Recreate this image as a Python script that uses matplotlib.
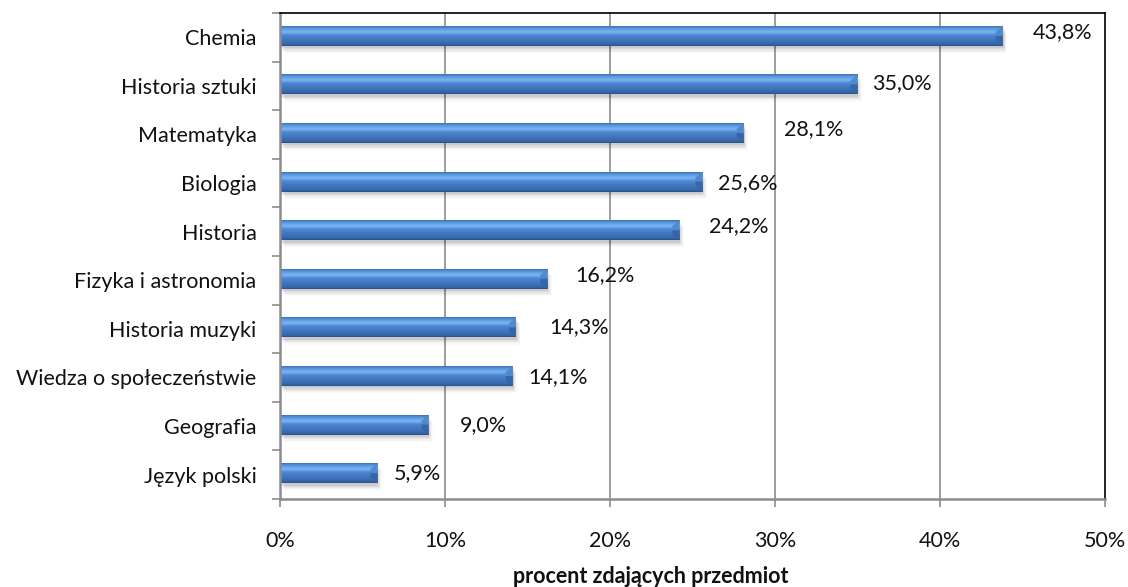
import numpy as np
import matplotlib
matplotlib.use("Agg")
import matplotlib.pyplot as plt
from matplotlib.colors import LinearSegmentedColormap
from matplotlib.patches import Rectangle, Polygon
import matplotlib.transforms as mtransforms

# ---- data ----
categories = ["Chemia", "Historia sztuki", "Matematyka", "Biologia", "Historia",
              "Fizyka i astronomia", "Historia muzyki", "Wiedza o społeczeństwie",
              "Geografia", "Język polski"]
values = [43.8, 35.0, 28.1, 25.6, 24.2, 16.2, 14.3, 14.1, 9.0, 5.9]
value_labels = ["43,8%", "35,0%", "28,1%", "25,6%", "24,2%",
                "16,2%", "14,3%", "14,1%", "9,0%", "5,9%"]
x_ticks = [0, 10, 20, 30, 40, 50]
x_tick_labels = ["0%", "10%", "20%", "30%", "40%", "50%"]
x_title = "procent zdających przedmiot"

# label offsets (px) as placed in the original
label_dx = [30, 15, 40, 16, 30, 28, 33, 16, 31, 16]
label_dy = [4, 1, 4, -1, 4, 4, 0, -1, 0, 0]

FONT = ["Lato", "DejaVu Sans"]
plt.rcParams['font.family'] = FONT
FS = 15.5

W, H, DPI = 1128, 587, 100
fig = plt.figure(figsize=(W / DPI, H / DPI), dpi=DPI)
ax = fig.add_axes([280 / W, 1 - 499 / H, (1105 - 280) / W, (499 - 13) / H])

n = len(categories)
ypos = np.arange(n)
ax.set_xlim(0, 50)
ax.set_ylim(n - 0.5, -0.5)

# gridlines
for t in x_ticks[1:-1]:
    ax.axvline(t, color="#8c8c8c", lw=1.2, zorder=0)

grad = LinearSegmentedColormap.from_list(
    "bar", [(0.0, "#2a5088"), (0.08, "#3566a8"), (0.35, "#4479c2"),
            (0.55, "#4d88d3"), (0.70, "#7cb6f2"), (0.85, "#5f9de2"),
            (0.95, "#4a86d0"), (1.0, "#3a6fb0")])
gimg = np.linspace(0, 1, 64).reshape(-1, 1)[::-1]

bh = 0.41
for i, v in enumerate(values):
    yc = ypos[i] - 0.03
    y0, y1 = yc - bh / 2, yc + bh / 2
    # soft shadow
    for k, a in enumerate([0.07, 0.05, 0.04, 0.03, 0.02]):
        off = mtransforms.offset_copy(ax.transData, fig=fig, x=(k + 1) * 0.9,
                                      y=-(k + 2) * 1.2, units="dots")
        ax.add_patch(Rectangle((0, y0), v, bh, facecolor="black", alpha=a,
                               edgecolor="none", transform=off, zorder=1))
    # gradient body
    rect = Rectangle((0, y0), v, bh, facecolor="none", edgecolor="none", zorder=2)
    ax.add_patch(rect)
    im = ax.imshow(gimg, cmap=grad, aspect="auto", extent=(0, v, y1, y0),
                   origin="upper", zorder=2, interpolation="bilinear")
    im.set_clip_path(rect)
    # bevel at the end
    d = 7 / 16.5
    e = bh * 0.3
    ax.add_patch(Polygon([(v - d, y0 + e), (v, y0), (v, yc), (v - d, yc)],
                         closed=True, facecolor="#4f89d0", edgecolor="none", zorder=3))
    ax.add_patch(Polygon([(v - d, yc), (v, yc), (v, y1), (v - d, y1 - e)],
                         closed=True, facecolor="#3766a6", edgecolor="none", zorder=3))

    # value label
    tr = mtransforms.offset_copy(ax.transData, fig=fig, x=label_dx[i],
                                 y=label_dy[i], units="dots")
    ax.text(v, yc, value_labels[i], transform=tr, ha="left", va="center",
            fontsize=FS, color="#111111", zorder=5)

# axes styling
for side in ["top", "right"]:
    ax.spines[side].set_color("black")
    ax.spines[side].set_linewidth(1.2)
for side in ["left", "bottom"]:
    ax.spines[side].set_color("#8c8c8c")
    ax.spines[side].set_linewidth(1.8)

ax.set_xticks(x_ticks)
ax.set_xticklabels(x_tick_labels, fontsize=FS)
ax.tick_params(axis="x", direction="out", length=6, width=1.2, color="#8c8c8c",
               pad=17, labelcolor="#111111")
ax.set_yticks(np.arange(-0.5, n, 1.0), minor=False)
ax.set_yticklabels([])
ax.set_yticks(ypos, minor=True)
ax.set_yticklabels(categories, minor=True, fontsize=FS)
ax.tick_params(axis="y", which="major", direction="out", length=6, width=1.2,
               color="#8c8c8c")
ax.tick_params(axis="y", which="minor", length=0, pad=17, labelcolor="#111111")

ax.set_xlabel(x_title, fontsize=FS, fontweight="bold", color="#111111")
ax.xaxis.set_label_coords((651 - 280) / 825, -0.137)

fig.savefig("out.png", dpi=DPI)
